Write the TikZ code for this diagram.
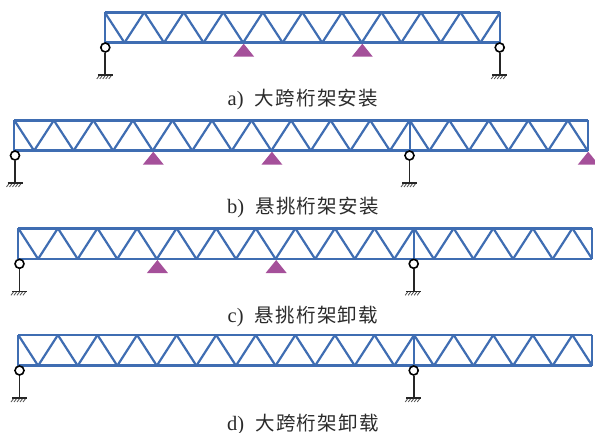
\documentclass[tikz,border=0pt]{standalone}
\usepackage{fontspec}
\setmainfont{Liberation Serif}
\newfontfamily\cjk[LetterSpace=7]{Noto Sans CJK SC}[Scale=0.95]
\usetikzlibrary{calc}
\definecolor{trussblue}{HTML}{3F6DB2}
\definecolor{pinpurple}{HTML}{A5509A}
\definecolor{captext}{HTML}{2A2A2A}
\tikzset{
  x=1pt,y=-1pt,
  chord/.style={draw=trussblue,line width=2.6pt,line join=miter},
  web/.style={draw=trussblue,line width=2.2pt,line join=round},
  pinsup/.style={fill=pinpurple,draw=none},
  rod/.style={draw=black!85,line width=1.7pt},
  hinge/.style={circle,draw=black,fill=white,line width=1.6pt,minimum size=9pt,inner sep=0pt},
  groundline/.style={draw=black!85,line width=1.4pt},
  groundhatch/.style={draw=black!70,line width=.8pt},
  caption/.style={text=captext,font=\fontsize{20.5}{22}\selectfont,anchor=base,inner sep=0pt}
}
% #1 name, #2 left x, #3 top y, #4 bottom y, #5 half panels, #6 half-panel width
\newcommand{\trussrun}[6]{%
  \foreach \i in {0,...,#5}{%
    \pgfmathsetmacro{\xx}{#2+\i*#6}%
    \coordinate (#1t\i) at (\xx,#3);
    \coordinate (#1b\i) at (\xx,#4);
  }%
  \foreach \i [evaluate=\i as \j using {int(\i+1)}, evaluate=\i as \k using {int(mod(\i,2))}] in {0,...,\numexpr#5-1\relax}{%
    \ifnum\k=0 \draw[web] (#1t\i) -- (#1b\j);\else \draw[web] (#1b\i) -- (#1t\j);\fi
  }%
  \draw[chord] (#1t0) -- (#1t#5);
  \draw[chord] (#1b0) -- (#1b#5);
  \draw[web] (#1t0) -- (#1b0);
  \draw[web] (#1t#5) -- (#1b#5);
}
% #1 anchor coordinate
\newcommand{\pinat}[1]{%
  \fill[pinsup] (#1) ++(0.6,1) -- ++(10.5,13) -- ++(-21,0) -- cycle;
}
% #1 node name, #2 x, #3 chord y
\newcommand{\rollerat}[3]{%
  \coordinate (#1g) at (#2,#3+32.3);
  \node[hinge] (#1) at (#2,#3+4.8) {};
  \draw[rod] (#1) -- (#1g);
  \foreach \d in {-7,-4,...,6}{\draw[groundhatch] ($(#1g)+(\d+1.5,0)$) -- ++(-3,4);}
  \draw[groundline] ($(#1g)+(-7.5,0)$) -- ($(#1g)+(7.5,0)$);
}
\begin{document}
\begin{tikzpicture}
\useasboundingbox (0,0) rectangle (595,433);
\clip (0,0) rectangle (595,433);
% a
\trussrun{a}{104.7}{12.3}{42.7}{20}{19.77}
\pinat{ab7}\pinat{ab13}
\rollerat{ar1}{105.3}{42.7}
\rollerat{ar2}{499.7}{42.7}
\node[caption] (capa) at (303,106) {a)\hspace{11pt}{\cjk 大跨桁架安装}};
% b
\trussrun{b}{14.3}{120.3}{150.7}{29}{19.77}
\draw[web] (bt20) -- (bb20);
\pinat{bb7}\pinat{bb13}\pinat{bb29}
\rollerat{br1}{15}{150.7}
\rollerat{br2}{409.5}{150.7}
\node[caption] (capb) at (303,214) {b)\hspace{11pt}{\cjk 悬挑桁架安装}};
% c
\trussrun{c}{18.3}{228.3}{259}{29}{19.79}
\draw[web] (ct20) -- (cb20);
\pinat{cb7}\pinat{cb13}
\rollerat{cr1}{19.5}{259}
\rollerat{cr2}{413.7}{259}
\node[caption] (capc) at (303,322) {c)\hspace{11pt}{\cjk 悬挑桁架卸载}};
% d
\trussrun{d}{18.3}{335}{365.7}{29}{19.79}
\draw[web] (dt20) -- (db20);
\rollerat{dr1}{19.5}{365.7}
\rollerat{dr2}{413.7}{365.7}
\node[caption] (capd) at (303,430) {d)\hspace{11pt}{\cjk 大跨桁架卸载}};
\end{tikzpicture}
\end{document}
